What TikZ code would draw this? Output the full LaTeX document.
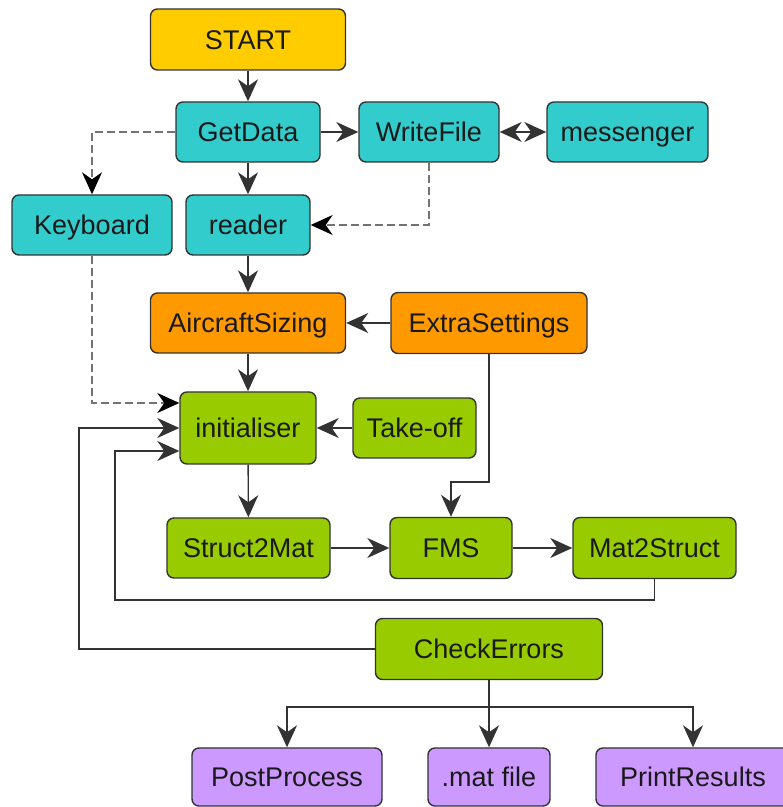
\documentclass[tikz,border=0pt]{standalone}
\usepackage{fontspec}
\setmainfont{Liberation Sans}
\usetikzlibrary{arrows.meta}
\definecolor{startc}{HTML}{FFCC00}
\definecolor{cyanc}{HTML}{33CCCC}
\definecolor{orangec}{HTML}{FF9900}
\definecolor{greenc}{HTML}{99CC00}
\definecolor{purplec}{HTML}{CC99FF}
\definecolor{boxline}{HTML}{333333}
\begin{document}
\begin{tikzpicture}[x=1pt, y=1pt,
  blk/.style={draw=boxline, line width=1.4pt, rounded corners=7pt, inner sep=2pt,
    text=black!90, font=\fontsize{27}{30}\selectfont, text height=19.5pt, text depth=0pt},
  link/.style={draw=black!80, line width=1.4pt, -{Stealth[length=22pt,width=20pt,inset=7pt]}},
  dlink/.style={draw=black!55, line width=1.4pt, dash pattern=on 8pt off 4pt,
    -{Stealth[length=22pt,width=20pt,inset=7pt,color=black]}}]
\useasboundingbox (0,0) rectangle (783,807);

% Input
\node[blk, fill=startc, minimum width=195pt, minimum height=61pt] (START) at (248,767.5) {START};
\node[blk, fill=cyanc, minimum width=144pt, minimum height=60pt] (GetData) at (248,675) {GetData};
\node[blk, fill=cyanc, minimum width=140pt, minimum height=60pt] (WriteFile) at (429,675) {WriteFile};
\node[blk, fill=cyanc, minimum width=161pt, minimum height=60pt] (messenger) at (627.5,675) {messenger};
\node[blk, fill=cyanc, minimum width=160pt, minimum height=60pt] (Keyboard) at (92,582) {Keyboard};
\node[blk, fill=cyanc, minimum width=124pt, minimum height=60pt] (reader) at (248,582) {reader};

% Sizing
\node[blk, fill=orangec, minimum width=195pt, minimum height=60pt] (AircraftSizing) at (248,484) {AircraftSizing};
\node[blk, fill=orangec, minimum width=196pt, minimum height=61pt] (ExtraSettings) at (489,484) {ExtraSettings};

% Loop
\node[blk, fill=greenc, minimum width=136pt, minimum height=72pt] (initialiser) at (248,379) {initialiser};
\node[blk, fill=greenc, minimum width=123pt, minimum height=60pt] (takeoff) at (414.5,379) {Take-off};
\node[blk, fill=greenc, minimum width=163pt, minimum height=60pt] (Struct2Mat) at (248.5,259) {Struct2Mat};
\node[blk, fill=greenc, minimum width=122pt, minimum height=61pt] (FMS) at (451,259) {FMS};
\node[blk, fill=greenc, minimum width=163pt, minimum height=61pt] (Mat2Struct) at (654.5,259) {Mat2Struct};
\node[blk, fill=greenc, minimum width=227pt, minimum height=61pt] (CheckErrors) at (489,158) {CheckErrors};

% Output
\node[blk, fill=purplec, minimum width=190pt, minimum height=58pt] (PostProcess) at (287,30) {PostProcess};
\node[blk, fill=purplec, minimum width=122pt, minimum height=58pt] (matfile) at (489,30) {.mat file};
\node[blk, fill=purplec, minimum width=194pt, minimum height=58pt] (PrintResults) at (693,30) {PrintResults};

% Bends
\coordinate (esbend) at (489,325);
\coordinate (loopa) at (115,207);
\coordinate (loopb) at (79,379);
\coordinate (branch) at (489,100);

% Connectors
\draw[link] (START) -- (GetData);
\draw[link] (GetData) -- (WriteFile);
\draw[link, {Stealth[length=22pt,width=20pt,inset=7pt]}-{Stealth[length=22pt,width=20pt,inset=7pt]}] (WriteFile) -- (messenger);
\draw[link] (GetData) -- (reader);
\draw[dlink] (GetData.west) -| (Keyboard.north);
\draw[dlink] (WriteFile.south) |- (reader.east);
\draw[link] (reader) -- (AircraftSizing);
\draw[link] (ExtraSettings) -- (AircraftSizing);
\draw[link] (AircraftSizing) -- (initialiser);
\draw[dlink] (Keyboard.south) |- ([yshift=25pt]initialiser.west);
\draw[link] (takeoff) -- (initialiser);
\draw[link] (initialiser) -- (Struct2Mat);
\draw[link] (ExtraSettings.south) -- (esbend) -| (FMS.north);
\draw[link] (Struct2Mat) -- (FMS);
\draw[link] (FMS) -- (Mat2Struct);
\draw[link] (Mat2Struct.south) |- (loopa) |- ([yshift=-23pt]initialiser.west);
\draw[link] (CheckErrors.west) -| (loopb) -- (initialiser.west);
\draw[link] (CheckErrors) -- (matfile);
\draw[link] (CheckErrors.south) -- (branch) -| (PostProcess.north);
\draw[link] (branch) -| (PrintResults.north);
\end{tikzpicture}
\end{document}
